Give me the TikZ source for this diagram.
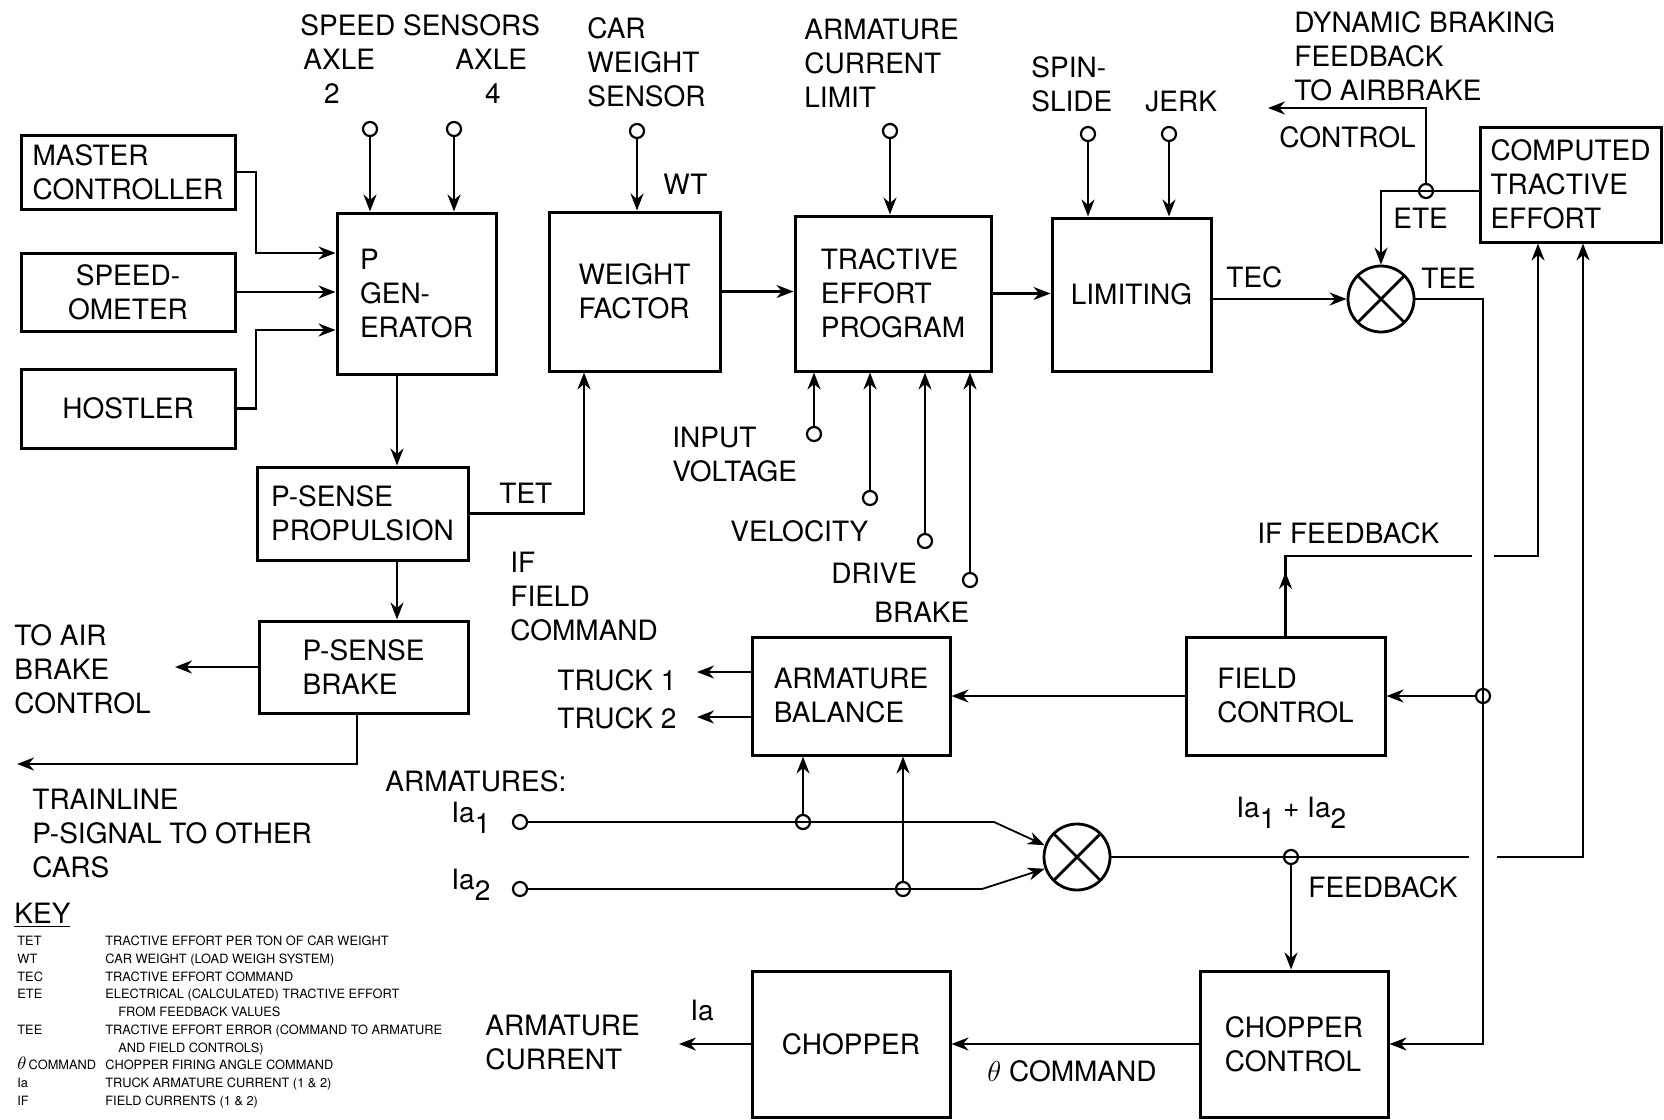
\documentclass[tikz,border=0pt]{standalone}
\usepackage{fontspec}
\setmainfont{TeX Gyre Heros}
\usetikzlibrary{arrows.meta}
\newcommand\mainf{\fontsize{14}{17}\selectfont}
\newcommand\keyf{\fontsize{6.4}{8.85}\selectfont}
\newcommand\subx[1]{\raisebox{-0.4em}{#1}}
\begin{document}
\begin{tikzpicture}[x=0.5pt,y=-0.5pt,
  blk/.style={draw,line width=1.5pt,align=left,inner sep=0pt,font=\mainf},
  lbl/.style={inner sep=0pt,anchor=north west,align=left,font=\mainf},
  clbl/.style={inner sep=0pt,anchor=west,font=\mainf},
  conn/.style={line width=1.2pt},
  arr/.style={conn,-{Stealth[length=8.5pt,width=6.5pt]}},
  ialine/.style={line width=0.9pt},
  term/.style={circle,draw,line width=1.1pt,fill=white,minimum size=7pt,inner sep=0pt},
  tap/.style={circle,draw,line width=1.1pt,minimum size=7pt,inner sep=0pt},
  sumj/.style={circle,draw,line width=1.4pt,minimum size=33pt,inner sep=0pt,
    path picture={\draw[line width=1.4pt] (path picture bounding box.south west)--(path picture bounding box.north east) (path picture bounding box.north west)--(path picture bounding box.south east);}}
]
\useasboundingbox (0,0) rectangle (1664,1119);

% ---------- blocks ----------
\node[blk,minimum width=107pt,minimum height=37pt] (mc) at (128,172) {MASTER\\CONTROLLER};
\node[blk,minimum width=107pt,minimum height=39pt,align=center] (sp) at (128,292) {SPEED-\\OMETER};
\node[blk,minimum width=107pt,minimum height=39.5pt] (ho) at (128,408.5) {HOSTLER};
\node[blk,minimum width=79.5pt,minimum height=80.5pt] (pg) at (416.5,293.5) {P\\GEN-\\ERATOR};
\node[blk,minimum width=85.5pt,minimum height=79.5pt] (wf) at (634.5,291.5) {WEIGHT\\FACTOR};
\node[blk,minimum width=98pt,minimum height=77.5pt] (tep) at (893,293.5) {TRACTIVE\\EFFORT\\PROGRAM};
\node[blk,minimum width=79.5pt,minimum height=76.5pt] (lim) at (1131.5,294.5) {LIMITING};
\node[sumj] (s1) at (1381,299) {};
\node[blk,minimum width=90.5pt,minimum height=57.5pt] (cte) at (1570.5,184.5) {COMPUTED\\TRACTIVE\\EFFORT};
\node[blk,minimum width=105.5pt,minimum height=46.5pt] (psp) at (362.5,513.5) {P-SENSE\\PROPULSION};
\node[blk,minimum width=104.5pt,minimum height=46pt] (psb) at (363.5,667) {P-SENSE\\BRAKE};
\node[blk,minimum width=99pt,minimum height=59pt] (ab) at (851,696) {ARMATURE\\BALANCE};
\node[blk,minimum width=99.5pt,minimum height=59pt] (fc) at (1285.5,696) {FIELD\\CONTROL};
\node[sumj] (s2) at (1077,857) {};
\node[blk,minimum width=99pt,minimum height=73pt] (ch) at (851,1044) {CHOPPER};
\node[blk,minimum width=94pt,minimum height=73pt] (cc) at (1294,1044) {CHOPPER\\CONTROL};

% ---------- terminals ----------
\node[term] (a2) at (370,129) {};
\node[term] (a4) at (454,129) {};
\node[term] (cw) at (637,131) {};
\node[term] (acl) at (890,131) {};
\node[term] (ss) at (1088,134) {};
\node[term] (jk) at (1169,134) {};
\node[term] (iv) at (814,434) {};
\node[term] (ve) at (870,498) {};
\node[term] (dr) at (925,541) {};
\node[term] (br) at (970,580) {};
\node[term] (ia1) at (520,822) {};
\node[term] (ia2) at (520,889) {};

% ---------- taps ----------
\node[tap] (tete) at (1426,191) {};
\node[tap] (tfc) at (1483,696) {};
\node[tap] (tcc) at (1291,857) {};
\node[tap] (t1) at (803,822) {};
\node[tap] (t2) at (903,889) {};

% ---------- free ends ----------
\coordinate (dbend) at (1268,108);
\coordinate (tr1) at (697,672);
\coordinate (tr2) at (697,717);
\coordinate (airb) at (175,667);
\coordinate (trl) at (17,764);
\coordinate (iaout) at (679,1044);

% ---------- connectors ----------
\draw[arr] (mc.east) -| (256,253) -- (pg.west |- 0,253);
\draw[arr] (sp.east) -- (pg.west |- sp.east);
\draw[arr] (ho.east) -| (256,330) -- (pg.west |- 0,330);
\draw[arr] (a2.south) -- (a2 |- pg.north);
\draw[arr] (a4.south) -- (a4 |- pg.north);
\draw[arr] (cw.south) -- (cw |- wf.north);
\draw[arr] (acl.south) -- (acl |- tep.north);
\draw[arr] (ss.south) -- (ss |- lim.north);
\draw[arr] (jk.south) -- (jk |- lim.north);
\draw[arr] (iv.north) -- (iv |- tep.south);
\draw[arr] (ve.north) -- (ve |- tep.south);
\draw[arr] (dr.north) -- (dr |- tep.south);
\draw[arr] (br.north) -- (br |- tep.south);

\draw[arr] (pg.south -| 397,0) -- (psp.north -| 397,0);
\draw[arr] (psp.south -| 397,0) -- (psb.north -| 397,0);
\draw[arr] (psp.east) -| (wf.south -| 584,0);
\draw[arr] (wf.east) -- (tep.west |- wf.east);
\draw[arr] (tep.east) -- (lim.west |- tep.east);
\draw[arr] (lim.east |- s1) -- (s1.west);
\draw[arr] (cte.west |- tete) -| (s1.north);
\draw[arr] (tete.north) |- (dbend);
\draw[arr] (s1.east) -| (1483,1044) -- (cc.east);
\draw[arr] (tfc.west) -- (fc.east);
\draw[conn] (fc.north) |- (1472,556);
\draw[arr] (fc.north) -- (fc.north |- 0,572);
\draw[arr] (1494,556) -| (cte.south -| 1538,0);
\draw[conn] (s2.east) -- (1469,857);
\draw[arr] (1497,857) -| (cte.south -| 1583,0);
\draw[arr] (tcc.south) -- (tcc |- cc.north);
\draw[arr] (fc.west) -- (ab.east);
\draw[arr] (ab.west |- tr1) -- (tr1);
\draw[arr] (ab.west |- tr2) -- (tr2);
\draw[ialine,-{Stealth[length=8.5pt,width=6.5pt]}] (ia1.east) -- (994,822) -- (s2.160);
\draw[ialine,-{Stealth[length=8.5pt,width=6.5pt]}] (ia2.east) -- (982,889) -- (s2.200);
\draw[ialine,-{Stealth[length=8.5pt,width=6.5pt]}] (t1.north) -- (t1 |- ab.south);
\draw[ialine,-{Stealth[length=8.5pt,width=6.5pt]}] (t2.north) -- (t2 |- ab.south);
\draw[arr] (cc.west) -- (ch.east);
\draw[arr] (ch.west) -- (iaout);
\draw[arr] (psb.west) -- (airb);
\draw[arr] (psb.south -| 357,0) |- (trl);

% ---------- labels ----------
\node[lbl] (lss) at (300,14) {SPEED SENSORS};
\node[lbl] (lax2) at (303,49) {AXLE};
\node[lbl] (lax4) at (455,49) {AXLE};
\node[inner sep=0pt,font=\mainf] (ln2) at (332,94) {2};
\node[inner sep=0pt,font=\mainf] (ln4) at (493,94) {4};
\node[lbl] (lcw) at (587,17) {CAR\\WEIGHT\\SENSOR};
\node[lbl] (lwt) at (663,174) {WT};
\node[lbl] (lacl) at (804,19) {ARMATURE\\CURRENT\\LIMIT};
\node[lbl] (lss2) at (1031,56) {SPIN-\\SLIDE};
\node[lbl] (ljk) at (1145,91) {JERK};
\node[lbl] (ldb) at (1294,11) {DYNAMIC BRAKING\\FEEDBACK\\TO AIRBRAKE};
\node[lbl] (lctl) at (1279,126) {CONTROL};
\node[lbl] (lete) at (1393,208) {ETE};
\node[lbl] (ltee) at (1421,268) {TEE};
\node[lbl] (ltec) at (1226,266) {TEC};
\node[lbl] (ltet) at (499,483) {TET};
\node[lbl] (liv) at (672,427) {INPUT\\VOLTAGE};
\node[lbl] (lve) at (730,520) {VELOCITY};
\node[lbl] (ldr) at (831,563) {DRIVE};
\node[lbl] (lbr) at (874,602) {BRAKE};
\node[lbl] (lif) at (510,552) {IF\\FIELD\\COMMAND};
\node[lbl] (lair) at (14,624) {TO AIR\\BRAKE\\CONTROL};
\node[lbl] (ltrl) at (32,789) {TRAINLINE\\P-SIGNAL TO OTHER\\CARS};
\node[lbl] (lt1) at (557,669) {TRUCK 1};
\node[lbl] (lt2) at (557,707) {TRUCK 2};
\node[lbl] (lifb) at (1257,522) {IF FEEDBACK};
\node[lbl] (larm) at (385,770) {ARMATURES:};
\node[clbl] (lia1) at (451,818) {Ia\subx{1}};
\node[clbl] (lia2) at (451,885) {Ia\subx{2}};
\node[clbl] (lsum) at (1236,813) {Ia\subx{1} + Ia\subx{2}};
\node[clbl] (lfb) at (1308,887) {FEEDBACK};
\node[clbl] (lth) at (987,1071) {$\theta$ COMMAND};
\node[clbl] (lia) at (690,1010) {Ia};
\node[lbl] (lac) at (485,1015) {ARMATURE\\CURRENT};

% ---------- key ----------
\node[clbl] (lkey) at (14,915) {\underline{KEY}};
\node[inner sep=0pt,anchor=north west,font=\keyf] (keytab) at (17,933) {%
\begin{tabular}{@{}p{44pt}@{}l@{}}
TET & TRACTIVE EFFORT PER TON OF CAR WEIGHT\\
WT & CAR WEIGHT (LOAD WEIGH SYSTEM)\\
TEC & TRACTIVE EFFORT COMMAND\\
ETE & ELECTRICAL (CALCULATED) TRACTIVE EFFORT\\
 & \hspace{6.5pt}FROM FEEDBACK VALUES\\
TEE & TRACTIVE EFFORT ERROR (COMMAND TO ARMATURE\\
 & \hspace{6.5pt}AND FIELD CONTROLS)\\
{\fontsize{9}{9}\selectfont$\theta$}\,COMMAND & CHOPPER FIRING ANGLE COMMAND\\
Ia & TRUCK ARMATURE CURRENT (1 \& 2)\\
IF & FIELD CURRENTS (1 \& 2)
\end{tabular}};
\end{tikzpicture}
\end{document}
